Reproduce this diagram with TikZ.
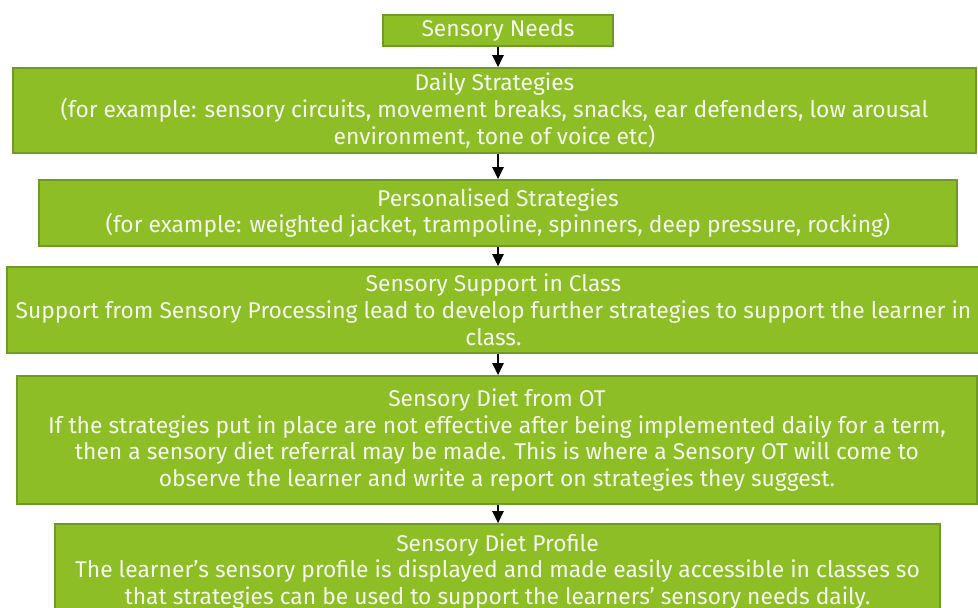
\documentclass[tikz,border=0pt]{standalone}
\usepackage{fontspec}
\setmainfont{Fira Sans}
\usetikzlibrary{arrows.meta}

\definecolor{boxgreen}{HTML}{8DBE26}
\definecolor{boxedge}{HTML}{6E9A25}
\definecolor{boxtext}{HTML}{F6F9EE}

\begin{document}
\begin{tikzpicture}[x=0.5pt, y=-0.5pt,
        stage/.style={draw=boxedge, line width=0.8pt, fill=boxgreen, text=boxtext, align=center,
            inner sep=0pt, font=\fontsize{11.4}{13.4}\selectfont},
        flow/.style={-{Triangle[length=6pt,width=5.5pt]}, line width=1.2pt, black}]
    \useasboundingbox[fill=white] (0,0) rectangle (978,608);
    \node[stage, minimum width=115pt, minimum height=15.5pt] (needs) at (498,30.5) {Sensory Needs};
    \node[stage, minimum width=481.5pt, minimum height=42.5pt] (daily) at (494.5,110.5)
        {Daily Strategies\\(for example: sensory circuits, movement breaks, snacks, ear defenders, low arousal\\environment, tone of voice etc)};
    \node[stage, minimum width=459pt, minimum height=33pt] (personal) at (498,213)
        {Personalised Strategies\\(for example: weighted jacket, trampoline, spinners, deep pressure, rocking)};
    \node[stage, minimum width=486.5pt, minimum height=43pt] (support) at (493.5,310)
        {Sensory Support in Class\\Support from Sensory Processing lead to develop further strategies to support the learner in\\class.};
    \node[stage, minimum width=480pt, minimum height=64pt] (diet) at (497,440)
        {Sensory Diet from OT\\If the strategies put in place are not effective after being implemented daily for a term,\\then a sensory diet referral may be made. This is where a Sensory OT will come to\\observe the learner and write a report on strategies they suggest.};
    \node[stage, minimum width=442.5pt, minimum height=47.5pt] (profile) at (497.5,571.5)
        {Sensory Diet Profile\\The learner’s sensory profile is displayed and made easily accessible in classes so\\that strategies can be used to support the learners’ sensory needs daily.};
    \draw[flow] (needs.south) -- (needs.south |- daily.north);
    \draw[flow] (daily.south -| needs.south) -- (needs.south |- personal.north);
    \draw[flow] (personal.south -| needs.south) -- (needs.south |- support.north);
    \draw[flow] (support.south -| needs.south) -- (needs.south |- diet.north);
    \draw[flow] (diet.south -| needs.south) -- (needs.south |- profile.north);
\end{tikzpicture}
\end{document}
